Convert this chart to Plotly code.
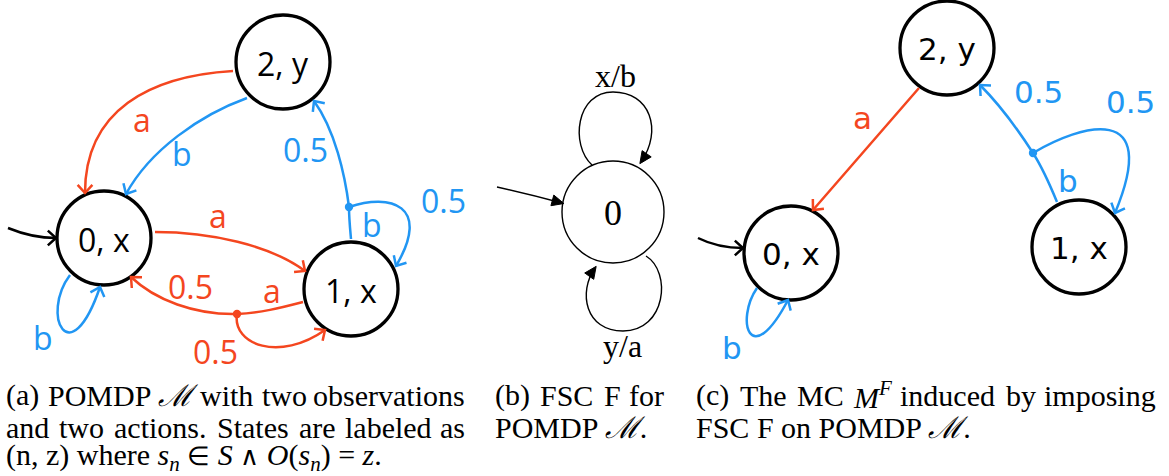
import math
import re
import plotly.graph_objects as go

RED = "#F4461F"
BLUE = "#2196F3"
BLACK = "#000000"

# ---------------- Panel (a): POMDP M ----------------
a_state_labels = ["0, x", "1, x", "2, y"]
a_state_x = [104, 351, 283]
a_state_y = [238, 289, 62]
a_state_r = 47

# transitions: (colour, Bezier control points, arrow head)
a_edges = [
    ("red",   [(233, 71), (150, 76), (85, 110), (85, 193)], True),      # 2 -a-> 0
    ("blue",  [(247, 98), (200, 115), (150, 150), (126, 194)], True),   # 2 -b-> 0
    ("red",   [(155, 232), (210, 232), (270, 245), (305, 271)], True),  # 0 -a-> 1
    ("red",   [(303, 302), (280, 308), (260, 313), (237, 314)], False), # 1 -a-> split
    ("red",   [(237, 314), (195, 315), (155, 300), (131, 277)], True),  # split -0.5-> 0
    ("red",   [(237, 314), (232, 345), (280, 362), (325, 330)], True),  # split -0.5-> 1
    ("blue",  [(351, 239), (350, 228), (349, 218), (349, 207)], False), # 1 -b-> split
    ("blue",  [(349, 207), (345, 175), (335, 130), (314, 101)], True),  # split -0.5-> 2
    ("blue",  [(349, 207), (390, 193), (432, 205), (396, 266)], True),  # split -0.5-> 1
    ("blue",  [(70, 275), (40, 315), (70, 375), (100, 287)], True),     # 0 -b-> 0
    ("black", [(8, 228), (25, 235), (40, 238), (56, 238)], True),       # initial
]
a_dots = [("red", 237, 314), ("blue", 349, 207)]
a_label_text = ["a", "b", "a", "0.5", "a", "0.5", "0.5", "0.5", "b", "b"]
a_label_x = [142, 182, 218, 190, 272, 215, 305, 443, 372, 43]
a_label_y = [119, 153, 215, 286, 290, 351, 149, 200, 224, 337]
a_label_col = ["red", "blue", "red", "red", "red", "red", "blue", "blue", "blue", "blue"]

# ---------------- Panel (b): FSC F ----------------
b_state_label = "0"
b_state_x = 613
b_state_y = 212
b_state_r = 51
b_edges = [
    [(592, 165), (570, 145), (576, 92), (613, 92), (650, 92), (663, 130), (641, 162)],  # x/b loop
    [(646, 256), (672, 272), (666, 331), (623, 331), (585, 331), (578, 292), (595, 268)],  # y/a loop
    [(497, 187), (515, 191), (540, 197), (562, 203)],  # initial
]
b_label_text = ["x/b", "y/a"]
b_label_x = [615, 622]
b_label_y = [76, 346]

# ---------------- Panel (c): induced MC ----------------
c_state_labels = ["0, x", "1, x", "2, y"]
c_state_x = [791, 1079, 947]
c_state_y = [253, 247, 48]
c_state_r = 47
c_edges = [
    ("red",   [(919, 88), (884, 128), (848, 170), (813, 210)], True),       # 2 -a-> 0
    ("blue",  [(1057, 202), (1050, 185), (1042, 167), (1033, 153)], False), # 1 -b-> split
    ("blue",  [(1033, 153), (1015, 125), (995, 100), (980, 85)], True),     # split -0.5-> 2
    ("blue",  [(1033, 153), (1080, 125), (1162, 100), (1115, 213)], True),  # split -0.5-> 1
    ("blue",  [(757, 288), (735, 320), (750, 372), (788, 300)], True),      # 0 -b-> 0
    ("black", [(698, 238), (712, 245), (728, 248), (743, 248)], True),      # initial
]
c_dots = [("blue", 1033, 153)]
c_label_text = ["a", "0.5", "0.5", "b", "b"]
c_label_x = [862, 1038, 1130, 1068, 732]
c_label_y = [118, 92, 102, 181, 348]
c_label_col = ["red", "blue", "blue", "blue", "blue"]

# ---------------- Captions ----------------
SMALL = '<span style="font-size:26px">{}</span>'
cap_a = ["(a) POMDP <i>ℳ</i> with two observations",
         "and two actions. States are labeled as",
         "(n, z) where <i>s<sub>n</sub></i> " + SMALL.format("∈") + " <i>S</i> "
         + SMALL.format("∧") + " <i>O</i>(<i>s<sub>n</sub></i>) = <i>z</i>."]
cap_b = ["(b) FSC F for", "POMDP <i>ℳ</i>."]
cap_c = ["(c) The MC <i>M<sup>F</sup></i> induced by imposing",
         "FSC F on POMDP <i>ℳ</i>."]
cap_x0 = [5, 494, 695]          # left edge of each caption column
cap_x1 = [466, 665, 1157]       # right edge (justified lines)
cap_justify = [[True, True, False], [True, False], [True, False]]
cap_line_y = [395, 427, 457]
CAP_SIZE = 30

COL = {"red": RED, "blue": BLUE, "black": BLACK}

shapes = []
annotations = []

# Times / Liberation Serif advance widths (1/1000 em) for justified captions
TW = {' ': 250, '(': 333, ')': 333, ',': 250, '.': 250, 'a': 444, 'b': 500, 'c': 444,
      'd': 500, 'e': 444, 'f': 333, 'g': 500, 'h': 500, 'i': 278, 'l': 278, 'm': 778,
      'n': 500, 'o': 500, 'p': 500, 'r': 333, 's': 389, 't': 278, 'u': 500, 'v': 500,
      'w': 722, 'y': 500, 'z': 444, 'A': 722, 'C': 667, 'D': 722, 'F': 556, 'M': 833,
      'O': 722, 'P': 556, 'S': 556, 'T': 611, 'ℳ': 1150}


def text_width(word, size):
    w = 0.0
    sup = re.findall(r"<sup>(.*?)</sup>", word)
    plain = re.sub(r"<sup>.*?</sup>", "", word)
    plain = re.sub(r"<[^>]+>", "", plain)
    for ch in plain:
        w += TW.get(ch, 500)
    for s in sup:
        for ch in re.sub(r"<[^>]+>", "", s):
            w += 0.7 * TW.get(ch, 500)
    return w * size / 1000.0


def add_circle(cx, cy, r, width, fill="white", color=BLACK):
    shapes.append(dict(type="circle", xref="x", yref="y", x0=cx - r, x1=cx + r,
                       y0=cy - r, y1=cy + r, line=dict(color=color, width=width),
                       fillcolor=fill, layer="above"))


def bez_path(pts):
    s = "M {},{}".format(*pts[0])
    rest = pts[1:]
    for i in range(0, len(rest), 3):
        s += " C {},{} {},{} {},{}".format(*rest[i], *rest[i + 1], *rest[i + 2])
    return s


def add_path(path, color, width, fill=None):
    d = dict(type="path", xref="x", yref="y", path=path,
             line=dict(color=color, width=width), layer="above")
    if fill:
        d["fillcolor"] = fill
    shapes.append(d)


def unit(p, q):
    dx, dy = q[0] - p[0], q[1] - p[1]
    n = math.hypot(dx, dy) or 1
    return dx / n, dy / n


def chevron(pts, color, width, length=11, ang=42):
    tip = pts[-1]
    ux, uy = unit(pts[-2], tip)
    arms = []
    for s in (1, -1):
        a = math.radians(ang) * s
        rx = ux * math.cos(a) - uy * math.sin(a)
        ry = ux * math.sin(a) + uy * math.cos(a)
        arms.append((tip[0] - length * rx, tip[1] - length * ry))
    add_path("M {},{} L {},{} L {},{}".format(*arms[0], *tip, *arms[1]), color, width)


def triangle(pts, length=12, half=5.5):
    tip = pts[-1]
    ux, uy = unit(pts[-2], tip)
    tip2 = (tip[0] + ux * 2, tip[1] + uy * 2)
    bx, by = tip2[0] - length * ux, tip2[1] - length * uy
    c1 = (bx - half * uy, by + half * ux)
    c2 = (bx + half * uy, by - half * ux)
    add_path("M {},{} L {},{} L {},{} Z".format(*tip2, *c1, *c2), BLACK, 1, fill=BLACK)


def label(text, x, y, color, family, size, xanchor="center"):
    annotations.append(dict(text=text, x=x, y=y, xref="x", yref="y", showarrow=False,
                            font=dict(family=family, size=size, color=color),
                            xanchor=xanchor, yanchor="middle", borderpad=0))


SANS_A = "Open Sans"
SANS_C = "DejaVu Sans"
SERIF = "Liberation Serif"
EW = 2.5   # edge width
NW = 3.3   # node border width

# panel (a)
for lab, x, y in zip(a_state_labels, a_state_x, a_state_y):
    add_circle(x, y, a_state_r, NW)
    label(lab, x, y + 1, BLACK, SANS_A, 32)
for col, pts, arrow in a_edges:
    add_path(bez_path(pts), COL[col], EW)
    if arrow:
        chevron(pts, COL[col], EW)
for col, x, y in a_dots:
    add_circle(x, y, 4.2, 0, fill=COL[col], color=COL[col])
for t, x, y, c in zip(a_label_text, a_label_x, a_label_y, a_label_col):
    label(t, x, y, COL[c], SANS_A, 32)

# panel (b)
add_circle(b_state_x, b_state_y, b_state_r, 1.4)
label(b_state_label, b_state_x, b_state_y + 1, BLACK, SERIF, 36)
for pts in b_edges:
    add_path(bez_path(pts), BLACK, 1.4)
    triangle(pts)
for t, x, y in zip(b_label_text, b_label_x, b_label_y):
    label(t, x, y, BLACK, SERIF, 32)

# panel (c)
for lab, x, y in zip(c_state_labels, c_state_x, c_state_y):
    add_circle(x, y, c_state_r, NW)
    label(lab, x, y + 1, BLACK, SANS_C, 31)
for col, pts, arrow in c_edges:
    add_path(bez_path(pts), COL[col], EW)
    if arrow:
        chevron(pts, COL[col], EW)
for col, x, y in c_dots:
    add_circle(x, y, 4.2, 0, fill=COL[col], color=COL[col])
for t, x, y, c in zip(c_label_text, c_label_x, c_label_y, c_label_col):
    label(t, x, y, COL[c], SANS_C, 31)

# captions (justified lines are laid out word by word)
for x0, x1, lines, just in zip(cap_x0, cap_x1, [cap_a, cap_b, cap_c], cap_justify):
    for ln, y, j in zip(lines, cap_line_y, just):
        if not j:
            label(ln, x0, y, BLACK, SERIF, CAP_SIZE, xanchor="left")
            continue
        words = ln.split(" ")
        widths = [text_width(w, CAP_SIZE) for w in words]
        gap = (x1 - x0 - sum(widths)) / (len(words) - 1)
        pos = x0
        for k, (w, wd) in enumerate(zip(words, widths)):
            if k == len(words) - 1:
                label(w, x1, y, BLACK, SERIF, CAP_SIZE, xanchor="right")
            else:
                label(w, pos, y, BLACK, SERIF, CAP_SIZE, xanchor="left")
            pos += wd + gap

fig = go.Figure(go.Scatter(x=[], y=[]))
fig.update_layout(
    width=1169, height=476, autosize=False,
    margin=dict(l=0, r=0, t=0, b=0, pad=0),
    paper_bgcolor="white", plot_bgcolor="white",
    xaxis=dict(range=[0, 1169], visible=False, fixedrange=True),
    yaxis=dict(range=[476, 0], visible=False, fixedrange=True),
    shapes=shapes, annotations=annotations, showlegend=False,
)
fig.write_html("out.html", config={"displayModeBar": False})
